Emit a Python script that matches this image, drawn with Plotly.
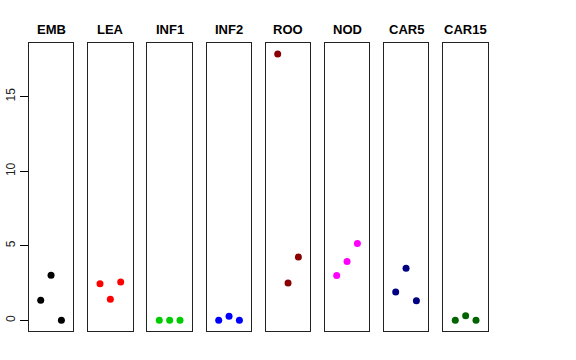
import plotly.graph_objects as go

tissues = ["EMB", "LEA", "INF1", "INF2", "ROO", "NOD", "CAR5", "CAR15"]
colors = ["#000000", "#FF0000", "#00CD00", "#0000FF", "#8B0000", "#FF00FF", "#000080", "#006400"]
rep_x = [1, 2, 3]
values = {
    "EMB": [1.34, 3.03, 0.0],
    "LEA": [2.45, 1.41, 2.57],
    "INF1": [0.0, 0.0, 0.0],
    "INF2": [0.0, 0.27, 0.0],
    "ROO": [17.86, 2.50, 4.24],
    "NOD": [3.01, 3.95, 5.16],
    "CAR5": [1.90, 3.50, 1.31],
    "CAR15": [0.0, 0.31, 0.0],
}
y_ticks = [0, 5, 10, 15]

W, H = 576, 360
panel_left = [28.7, 88.0, 147.3, 206.7, 265.7, 324.7, 383.7, 443.3]
panel_w = 44.7
top_px, bot_px = 43.3, 331.0

ymax = max(max(v) for v in values.values())
pad = 0.04 * ymax
yrange = [-pad, ymax + pad]

fig = go.Figure()
layout = dict(
    width=W, height=H, margin=dict(l=0, r=0, t=0, b=0, autoexpand=False),
    paper_bgcolor="white", plot_bgcolor="white", showlegend=False,
    font=dict(family="Liberation Sans, Arial, sans-serif", color="black"),
)
annotations = []
for i, t in enumerate(tissues):
    n = "" if i == 0 else str(i + 1)
    xa = "x" + n
    ya = "y" + n
    fig.add_trace(go.Scatter(
        x=rep_x, y=values[t], mode="markers", xaxis=xa, yaxis=ya,
        marker=dict(color=colors[i], size=7, line=dict(width=0)),
    ))
    x0 = panel_left[i] / W
    x1 = (panel_left[i] + panel_w) / W
    layout["xaxis" + n] = dict(
        domain=[x0, x1], range=[-0.16, 4.16], anchor=ya, automargin=False,
        showticklabels=False, ticks="", showgrid=False, zeroline=False,
        showline=True, mirror=True, linecolor="#222222", linewidth=1,
    )
    yd = dict(
        domain=[(H - bot_px) / H, (H - top_px) / H], range=yrange, anchor=xa,
        automargin=False, showgrid=False, zeroline=False,
        showline=True, mirror=True, linecolor="#222222", linewidth=1,
    )
    if i == 0:
        yd.update(tickvals=y_ticks, ticktext=[str(v) for v in y_ticks],
                  ticks="outside", ticklen=8, tickcolor="black", tickwidth=1,
                  tickangle=-90, tickfont=dict(size=12, color="#222222"))
    else:
        yd.update(showticklabels=False, ticks="")
    layout["yaxis" + n] = yd
    annotations.append(dict(
        text="<b>" + t + "</b>", x=(panel_left[i] + panel_w / 2) / W, y=(H - 29) / H,
        xref="paper", yref="paper", xanchor="center", yanchor="middle",
        showarrow=False, font=dict(size=13, color="black"),
    ))
layout["annotations"] = annotations
fig.update_layout(**layout)
fig.write_html(
    "out.html",
    config={"displayModeBar": False},
    post_script="document.body.style.margin='0';document.body.style.padding='0';",
)
